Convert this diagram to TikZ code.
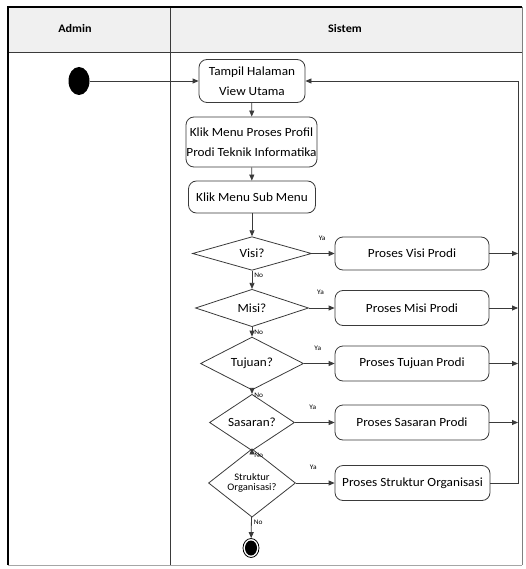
\documentclass[tikz,border=0pt]{standalone}
\usepackage{fontspec}
\setmainfont{Carlito}[FakeStretch=1.06]
\usetikzlibrary{shapes.geometric,arrows.meta}
\definecolor{ln}{HTML}{3A3A3A}
\definecolor{hdr}{HTML}{F0F0F0}
\begin{document}
\begin{tikzpicture}[x=1pt,y=-1pt,
  act/.style={draw=ln,line width=0.8pt,rounded corners=8pt,align=center,inner sep=0pt,font=\fontsize{12.5}{20}\selectfont},
  dec/.style={draw=ln,line width=0.8pt,diamond,inner sep=0pt,align=center,font=\fontsize{12.5}{14}\selectfont},
  flow/.style={draw=ln,line width=0.8pt,-{Triangle[length=6pt,width=5pt]}},
  plain/.style={draw=ln,line width=0.8pt},
  lbl/.style={font=\fontsize{7}{8}\selectfont,inner sep=0pt},
  nolbl/.style={lbl,pos=0,anchor=north west,xshift=2pt,yshift=-2pt}]
\useasboundingbox (0,0) rectangle (525,569);
% swimlanes
\fill[hdr] (8,7) rectangle (522,53);
\draw[gray!70,line width=0.6pt] (8,565) -- (522,565);
\draw[ln,line width=1pt] (8,53) -- (522,53);
\draw[ln,line width=1pt] (170,7) -- (170,565);
\draw[gray,line width=0.8pt] (522,7) -- (522,565);
\draw[black,line width=1.8pt] (8,565) -- (8,7) -- (522,7);
\node[font=\bfseries\fontsize{11.5}{13}\selectfont] (hA) at (75,29) {Admin};
\node[font=\bfseries\fontsize{11.5}{13}\selectfont] (hS) at (345,29) {Sistem};
% nodes
\node[fill=black,ellipse,minimum width=21pt,minimum height=28pt,inner sep=0pt] (start) at (79,81) {};
\node[act,minimum width=106pt,minimum height=43pt] (tampil) at (252,81) {Tampil Halaman\\View Utama};
\node[act,minimum width=131pt,minimum height=50pt] (klik1) at (251.5,142) {Klik Menu Proses Profil\\Prodi Teknik Informatika};
\node[act,minimum width=127pt,minimum height=32pt] (klik2) at (252,197) {Klik Menu Sub Menu};
\node[dec,minimum width=119pt,minimum height=33pt] (d1) at (252,253.5) {Visi?};
\node[dec,minimum width=113pt,minimum height=35pt] (d2) at (252,308) {Misi?};
\node[dec,minimum width=103pt,minimum height=39pt] (d3) at (252,363.5) {Tujuan?};
\node[dec,minimum width=85pt,minimum height=35pt] (d4) at (252,422.5) {Sasaran?};
\node[dec,minimum width=87pt,minimum height=56pt,font=\fontsize{10}{10.5}\selectfont] (d5) at (252,483) {Struktur\\Organisasi?};
\node[act,minimum width=154pt,minimum height=33pt] (p1) at (412,253.5) {Proses Visi Prodi};
\node[act,minimum width=154pt,minimum height=35pt] (p2) at (412,308) {Proses Misi Prodi};
\node[act,minimum width=154pt,minimum height=35pt] (p3) at (412,363.5) {Proses Tujuan Prodi};
\node[act,minimum width=154pt,minimum height=35pt] (p4) at (412,422.5) {Proses Sasaran Prodi};
\node[act,minimum width=155pt,minimum height=35pt] (p5) at (412.5,483) {Proses Struktur Organisasi};
\node[draw=black,line width=0.8pt,ellipse,minimum width=16pt,minimum height=19pt,inner sep=0pt] (end) at (251,548) {};
\node[fill=black,ellipse,minimum width=12pt,minimum height=15pt,inner sep=0pt] (endin) at (251,548) {};
% return line coordinates
\coordinate (r1) at (518,253.5);
\coordinate (r2) at (518,308);
\coordinate (r3) at (518,363.5);
\coordinate (r4) at (518,422.5);
\coordinate (r5) at (518,483);
\coordinate (rt) at (518,81);
% connectors
\draw[flow] (start) -- (tampil.west);
\draw[flow] (tampil) -- (klik1);
\draw[flow] (klik1) -- (klik2);
\draw[flow] (klik2) -- (d1);
\draw[flow] (d1) -- node[nolbl]{No} (d2);
\draw[flow] (d2) -- node[nolbl]{No} (d3);
\draw[flow] (d3) -- node[nolbl]{No} (d4);
\draw[flow] (d4) -- node[nolbl]{No} (d5);
\draw[flow] (d5) -- node[nolbl]{No} (end);
\draw[flow] (d1.east) -- node[lbl,pos=0.45,above=13pt]{Ya} (p1.west);
\draw[flow] (d2.east) -- node[lbl,pos=0.45,above=13pt]{Ya} (p2.west);
\draw[flow] (d3.east) -- node[lbl,pos=0.45,above=13pt]{Ya} (p3.west);
\draw[flow] (d4.east) -- node[lbl,pos=0.45,above=13pt]{Ya} (p4.west);
\draw[flow] (d5.east) -- node[lbl,pos=0.45,above=13pt]{Ya} (p5.west);
\draw[flow] (p1.east) -- (r1);
\draw[flow] (p2.east) -- (r2);
\draw[flow] (p3.east) -- (r3);
\draw[flow] (p4.east) -- (r4);
\draw[flow] (p5.east) -- (r5) -- (rt) -- (tampil.east);
\end{tikzpicture}
\end{document}
